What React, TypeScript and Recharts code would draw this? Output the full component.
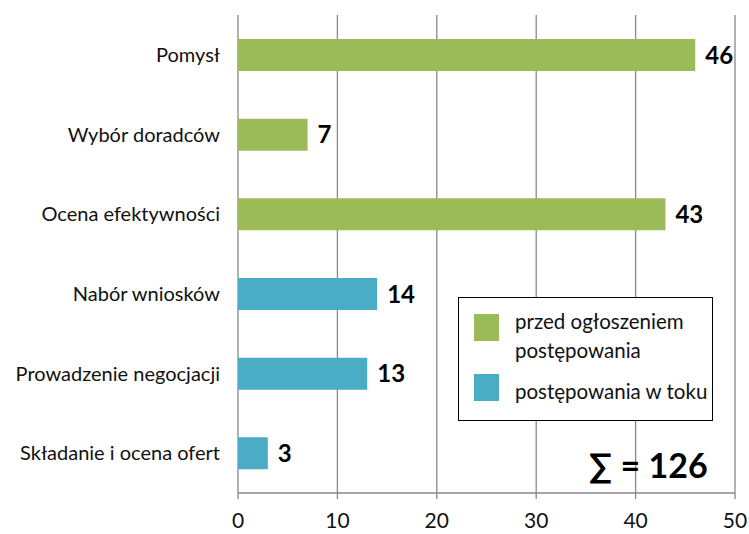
import { BarChart, Bar, XAxis, YAxis, CartesianGrid, Cell, LabelList } from 'recharts';

const categories = [
    'Pomysł',
    'Wybór doradców',
    'Ocena efektywności',
    'Nabór wniosków',
    'Prowadzenie negocjacji',
    'Składanie i ocena ofert',
];
const counts = [46, 7, 43, 14, 13, 3];
// 0 = przed ogłoszeniem postępowania, 1 = postępowania w toku
const groups = [0, 0, 0, 1, 1, 1];
const groupNames = ['przed ogłoszeniem\npostępowania', 'postępowania w toku'];
const groupColors = ['#9BBB59', '#4BACC6'];
const xTicks = [0, 10, 20, 30, 40, 50];
const edgeTicks = [0, 1, 2, 3, 4, 5, 6];

const data = categories.map((name, i) => ({ name, value: counts[i], group: groups[i] }));
const total = counts.reduce((a, b) => a + b, 0);

const FONT = 'Lato, "Open Sans", sans-serif';
const AXIS = '#888888';

export default function App() {
    return (
        <div style={{ position: 'absolute', left: 0, top: 0, width: 749, height: 534, fontFamily: FONT, background: '#fff' }}>
            <BarChart
                width={749}
                height={534}
                data={data}
                layout="vertical"
                margin={{ top: 15, right: 14, bottom: 0, left: 0 }}
            >
                <CartesianGrid horizontal={false} vertical stroke={AXIS} strokeWidth={1.3} />
                <XAxis
                    type="number"
                    domain={[0, 50]}
                    ticks={xTicks}
                    height={41}
                    stroke={AXIS}
                    strokeWidth={1.3}
                    tickSize={6}
                    tickMargin={8}
                    tick={{ fill: '#111', fontSize: 21, fontFamily: FONT, dy: 6 }}
                />
                <YAxis
                    yAxisId="edge"
                    type="number"
                    domain={[0, 6]}
                    ticks={edgeTicks}
                    width={0}
                    tick={false}
                    tickSize={8}
                    stroke={AXIS}
                    strokeWidth={1.3}
                />
                <YAxis
                    yAxisId="cat"
                    type="category"
                    dataKey="name"
                    width={238}
                    axisLine={false}
                    tickLine={false}
                    tickSize={0}
                    tickMargin={18}
                    tick={{ fill: '#111', fontSize: 20, fontFamily: FONT }}
                />
                <Bar yAxisId="cat" dataKey="value" barSize={32} isAnimationActive={false}>
                    {data.map((entry, index) => (
                        <Cell key={`cell-${index}`} fill={groupColors[entry.group]} />
                    ))}
                    <LabelList
                        dataKey="value"
                        position="right"
                        offset={10}
                        fill="#000"
                        fontSize={24}
                        fontWeight="bold"
                        fontFamily={FONT}
                    />
                </Bar>
            </BarChart>
            <div
                style={{
                    position: 'absolute',
                    left: 458,
                    top: 297,
                    width: 255,
                    height: 124,
                    border: '1px solid #000',
                    background: '#fff',
                    boxSizing: 'border-box',
                }}
            >
                {groupNames.map((label, i) => (
                    <div
                        key={label}
                        style={{
                            position: 'absolute',
                            left: 15,
                            top: i === 0 ? 16 : 76,
                            display: 'flex',
                            alignItems: 'flex-start',
                        }}
                    >
                        <div style={{ width: 25, height: 27, background: groupColors[i] }} />
                        <div
                            style={{
                                marginLeft: 16,
                                marginTop: i === 0 ? -7 : 3,
                                fontSize: 20.5,
                                lineHeight: '29px',
                                color: '#111',
                                whiteSpace: 'pre',
                            }}
                        >
                            {label}
                        </div>
                    </div>
                ))}
            </div>
            <div
                style={{
                    position: 'absolute',
                    left: 589,
                    top: 444,
                    fontSize: 34,
                    fontWeight: 'bold',
                    color: '#000',
                    lineHeight: '42px',
                }}
            >
                ∑ = {total}
            </div>
        </div>
    );
}
